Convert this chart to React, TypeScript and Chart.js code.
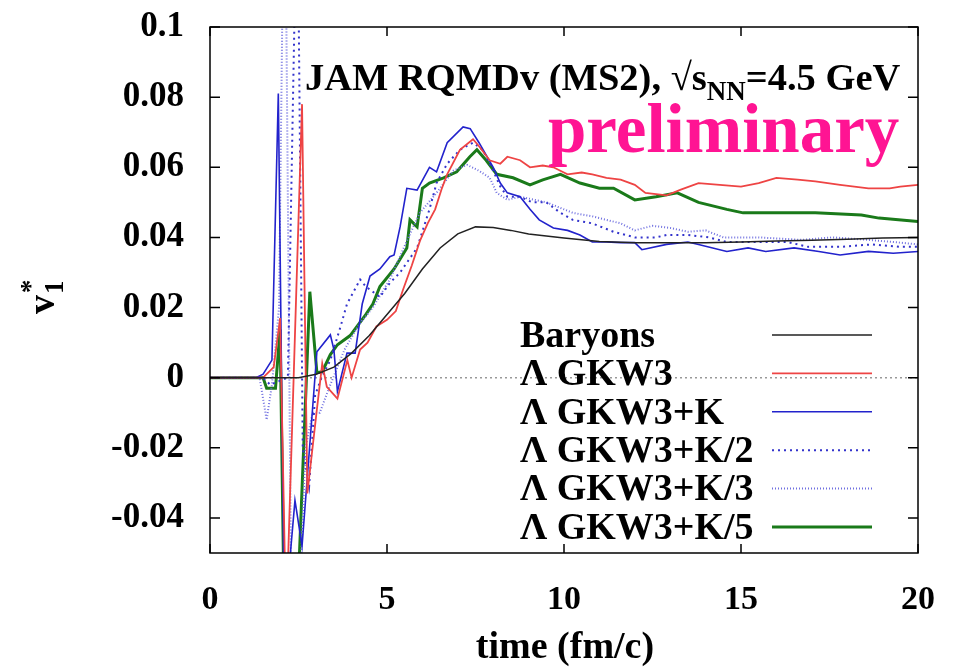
import React, { useEffect, useRef } from "react";
import { Chart, registerables } from "chart.js";

Chart.register(...registerables);

// ---- data (time in fm/c, v1*) ----
const baryonsT = [0, 1, 2, 2.5, 3, 3.5, 4, 4.5, 5, 5.5, 6, 6.5, 7, 7.5, 8, 8.5, 9, 10, 11, 12, 13, 14, 15, 16, 17, 18, 19, 20];
const baryonsV = [0, 0, 0, 0, 0.001, 0.003, 0.007, 0.012, 0.018, 0.024, 0.031, 0.037, 0.041, 0.043, 0.0428, 0.042, 0.041, 0.0398, 0.0388, 0.0385, 0.0385, 0.0385, 0.0387, 0.039, 0.0392, 0.0395, 0.0398, 0.04];

const gkwT = [0, 1.5, 1.8, 1.98, 2.15, 2.6, 2.75, 3.02, 3.17, 3.3, 3.6, 3.88, 4.0, 4.24, 4.45, 4.7, 5.0, 5.25, 5.45, 5.7, 5.93, 6.15, 6.36, 6.55, 6.7, 7.06, 7.43, 7.6, 7.9, 8.2, 8.4, 8.76, 9.04, 9.4, 9.7, 10.1, 10.5, 10.8, 11.2, 11.6, 12.0, 12.3, 12.9, 13.3, 13.8, 14.4, 15.0, 15.5, 16.0, 16.6, 17.1, 17.8, 18.6, 19.2, 19.5, 20];
const gkwV = [0, 0, 0.003, 0.017, -0.07, 0.078, -0.033, -0.009, 0.004, -0.0026, -0.006, 0.005, 0, 0.008, 0.01, 0.0146, 0.0165, 0.019, 0.025, 0.032, 0.039, 0.044, 0.048, 0.054, 0.058, 0.065, 0.068, 0.066, 0.062, 0.061, 0.063, 0.062, 0.06, 0.0605, 0.06, 0.058, 0.0585, 0.058, 0.057, 0.0565, 0.055, 0.0527, 0.052, 0.0536, 0.0555, 0.055, 0.0545, 0.0555, 0.057, 0.0565, 0.056, 0.055, 0.054, 0.054, 0.0545, 0.055];

const gkwKT = [0, 1.3, 1.5, 1.75, 1.93, 2.1, 2.4, 2.6, 3.02, 3.4, 3.5, 3.6, 3.87, 4.1, 4.2, 4.3, 4.52, 4.8, 5.08, 5.2, 5.37, 5.56, 5.85, 6.2, 6.4, 6.7, 7.15, 7.35, 7.6, 8.0, 8.2, 8.4, 8.76, 9.04, 9.3, 9.7, 10.1, 10.45, 10.8, 11.2, 11.6, 12.0, 12.2, 12.9, 13.5, 13.8, 14.6, 15.2, 15.7, 16.5, 17.2, 17.8, 18.6, 19.3, 20];
const gkwKV = [0, 0, 0.001, 0.005, 0.081, -0.07, -0.035, -0.048, 0.0074, 0.0122, 0.008, -0.004, 0.007, 0.007, 0.014, 0.021, 0.029, 0.031, 0.0345, 0.035, 0.043, 0.054, 0.0535, 0.06, 0.0587, 0.067, 0.0715, 0.071, 0.067, 0.06, 0.0555, 0.0527, 0.0516, 0.048, 0.045, 0.0427, 0.042, 0.0407, 0.0387, 0.0387, 0.0385, 0.0385, 0.0365, 0.038, 0.0387, 0.038, 0.036, 0.037, 0.036, 0.037, 0.036, 0.035, 0.036, 0.0355, 0.036];

const gkwK2T = [0, 1.5, 1.7, 2.2, 2.4, 2.5, 2.62, 2.8, 2.97, 3.15, 3.4, 3.7, 3.87, 4.24, 4.4, 4.8, 5.08, 5.37, 5.85, 6.2, 6.4, 6.7, 7.06, 7.43, 7.7, 8.0, 8.2, 8.4, 8.76, 9.1, 9.5, 9.9, 10.25, 10.8, 11.4, 12.0, 12.6, 12.9, 13.5, 14.1, 14.6, 15.5, 16.3, 16.9, 17.8, 18.7, 19.5, 20];
const gkwK2V = [0, 0, -0.002, 0, 0.11, 0.11, -0.02, -0.031, -0.005, 0, 0.005, 0.015, 0.021, 0.028, 0.026, 0.023, 0.027, 0.03, 0.037, 0.048, 0.0555, 0.061, 0.065, 0.067, 0.065, 0.059, 0.0545, 0.0516, 0.0516, 0.05, 0.05, 0.047, 0.045, 0.044, 0.0416, 0.04, 0.04, 0.0407, 0.0407, 0.04, 0.0387, 0.0387, 0.0387, 0.0373, 0.0373, 0.038, 0.0373, 0.0373];

const gkwK3T = [0, 1.4, 1.6, 1.75, 1.95, 2.05, 2.15, 2.3, 2.5, 2.7, 2.9, 3.1, 3.4, 3.8, 4.2, 4.6, 5.08, 5.56, 5.93, 6.4, 6.87, 7.26, 7.6, 7.9, 8.1, 8.4, 8.76, 9.5, 10.25, 10.8, 11.6, 12.0, 12.5, 13.0, 13.5, 14.0, 14.5, 15.5, 16.7, 17.6, 18.6, 19.5, 20];
const gkwK3V = [0, 0, -0.012, -0.002, 0.02, 0.11, 0.11, -0.07, -0.07, -0.02, -0.01, -0.01, -0.002, 0.008, 0.015, 0.02, 0.028, 0.039, 0.047, 0.0527, 0.059, 0.0607, 0.059, 0.057, 0.0527, 0.0507, 0.0516, 0.05, 0.047, 0.046, 0.044, 0.042, 0.0433, 0.0427, 0.0416, 0.042, 0.04, 0.04, 0.0393, 0.04, 0.0393, 0.0385, 0.038];

const gkwK5T = [0, 1.5, 1.6, 1.85, 1.98, 2.1, 2.45, 2.82, 3.02, 3.17, 3.4, 3.6, 3.96, 4.4, 4.6, 4.8, 5.2, 5.56, 5.65, 5.85, 6.0, 6.2, 6.6, 6.97, 7.34, 7.54, 7.8, 8.1, 8.56, 9.04, 9.4, 9.9, 10.45, 11.0, 11.4, 12.0, 12.6, 13.2, 13.8, 14.6, 15.06, 15.9, 17.1, 18.4, 18.9, 20];
const gkwK5V = [0, 0, -0.003, -0.003, 0.0137, -0.07, -0.07, 0.0245, 0.0014, 0.0017, 0.0066, 0.0094, 0.012, 0.018, 0.021, 0.026, 0.031, 0.037, 0.045, 0.043, 0.054, 0.0555, 0.057, 0.0587, 0.063, 0.065, 0.062, 0.058, 0.057, 0.055, 0.0564, 0.058, 0.0555, 0.054, 0.054, 0.0507, 0.0516, 0.0527, 0.05, 0.048, 0.047, 0.047, 0.047, 0.0464, 0.0455, 0.0445];

const seriesLabels = ["Baryons", "\u039b GKW3", "\u039b GKW3+K", "\u039b GKW3+K/2", "\u039b GKW3+K/3", "\u039b GKW3+K/5"];
const xTicks = [0, 5, 10, 15, 20];
const yTicks = [-0.04, -0.02, 0, 0.02, 0.04, 0.06, 0.08, 0.1];

const titleMain = "JAM RQMDv (MS2), \u221as";
const titleSub = "NN";
const titleEnd = "=4.5 GeV";
const stamp = "preliminary";
const xTitle = "time (fm/c)";

const FONT = "'Liberation Serif', 'Times New Roman', serif";

const pts = (t: number[], v: number[]) => t.map((x, i) => ({ x, y: v[i] }));

const overlay = {
  id: "overlay",
  beforeDatasetsDraw(chart: any) {
    const { ctx, chartArea: a, scales } = chart;
    const y0 = scales.y.getPixelForValue(0);
    ctx.save();
    ctx.strokeStyle = "#999";
    ctx.lineWidth = 1.5;
    ctx.setLineDash([2, 3]);
    ctx.beginPath();
    ctx.moveTo(a.left, y0);
    ctx.lineTo(a.right, y0);
    ctx.stroke();
    ctx.restore();
  },
  afterDatasetsDraw(chart: any) {
    const { ctx, chartArea: a, scales } = chart;
    ctx.save();
    // frame
    ctx.strokeStyle = "#000";
    ctx.lineWidth = 1.5;
    ctx.setLineDash([]);
    ctx.strokeRect(a.left, a.top, a.right - a.left, a.bottom - a.top);
    // inward ticks
    ctx.beginPath();
    xTicks.forEach((t) => {
      const px = scales.x.getPixelForValue(t);
      ctx.moveTo(px, a.bottom);
      ctx.lineTo(px, a.bottom - 9);
      ctx.moveTo(px, a.top);
      ctx.lineTo(px, a.top + 9);
    });
    yTicks.forEach((t) => {
      const py = scales.y.getPixelForValue(t);
      ctx.moveTo(a.left, py);
      ctx.lineTo(a.left + 10, py);
      ctx.moveTo(a.right, py);
      ctx.lineTo(a.right - 10, py);
    });
    ctx.stroke();

    // title
    ctx.fillStyle = "#000";
    ctx.textBaseline = "alphabetic";
    ctx.textAlign = "left";
    ctx.font = `bold 38.5px ${FONT}`;
    let x = 305;
    const by = 90;
    ctx.fillText(titleMain, x, by);
    x += ctx.measureText(titleMain).width;
    ctx.font = `bold 27px ${FONT}`;
    ctx.fillText(titleSub, x, by + 10);
    x += ctx.measureText(titleSub).width;
    ctx.font = `bold 38.5px ${FONT}`;
    ctx.fillText(titleEnd, x, by);

    // preliminary
    ctx.fillStyle = "#ff1493";
    ctx.font = `bold 69px ${FONT}`;
    ctx.fillText(stamp, 548, 152);

    // legend
    const ds = chart.data.datasets;
    ctx.font = `bold 38px ${FONT}`;
    ds.forEach((d: any, i: number) => {
      const cy = 336 + i * 38.4;
      ctx.fillStyle = "#000";
      ctx.textBaseline = "middle";
      ctx.fillText(d.label, 520, cy + 1);
      ctx.strokeStyle = d.borderColor;
      ctx.lineWidth = d.borderWidth;
      ctx.setLineDash(d.borderDash || []);
      ctx.beginPath();
      ctx.moveTo(772, cy - 1);
      ctx.lineTo(872, cy - 1);
      ctx.stroke();
    });
    ctx.setLineDash([]);

    // x title
    ctx.fillStyle = "#000";
    ctx.textAlign = "center";
    ctx.textBaseline = "middle";
    ctx.font = `bold 38px ${FONT}`;
    ctx.fillText(xTitle, 565, 648);

    // y title v1*
    ctx.translate(42, 292);
    ctx.rotate(-Math.PI / 2);
    ctx.textAlign = "left";
    ctx.textBaseline = "alphabetic";
    ctx.font = `bold 38px ${FONT}`;
    ctx.fillText("v", -22, 12);
    ctx.font = `bold 27px ${FONT}`;
    ctx.fillText("1", -2, 21);
    ctx.fillText("*", -1, -3);
    ctx.restore();
  },
};

export default function App() {
  const ref = useRef<HTMLCanvasElement | null>(null);
  useEffect(() => {
    if (!ref.current) return;
    const mk = (label: string, t: number[], v: number[], color: string, width: number, dash: number[] = []) => ({
      label,
      data: pts(t, v),
      borderColor: color,
      backgroundColor: color,
      borderWidth: width,
      borderDash: dash,
      pointRadius: 0,
      tension: 0,
      fill: false,
      clip: 0,
    });
    const chart = new Chart(ref.current, {
      type: "line",
      data: {
        datasets: [
          mk(seriesLabels[0], baryonsT, baryonsV, "#222222", 1.5),
          mk(seriesLabels[1], gkwT, gkwV, "#ee4444", 1.8),
          mk(seriesLabels[2], gkwKT, gkwKV, "#2222cc", 1.6),
          mk(seriesLabels[3], gkwK2T, gkwK2V, "#3333cc", 2, [2, 4]),
          mk(seriesLabels[4], gkwK3T, gkwK3V, "#6f6fe0", 2, [1, 2]),
          mk(seriesLabels[5], gkwK5T, gkwK5V, "#1a7a1a", 3),
        ] as any,
      },
      options: {
        animation: false,
        responsive: false,
        maintainAspectRatio: false,
        layout: { padding: { top: 27, right: 36, left: 0, bottom: 0 } },
        plugins: { legend: { display: false }, tooltip: { enabled: false } },
        scales: {
          x: {
            type: "linear",
            min: 0,
            max: 20,
            grid: { display: false, drawTicks: false },
            border: { display: false },
            ticks: {
              padding: 27,
              color: "#000",
              font: { family: FONT, size: 34, weight: "bold" },
              maxRotation: 0,
            },
            afterBuildTicks: (s: any) => {
              s.ticks = xTicks.map((v) => ({ value: v }));
            },
            afterFit: (s: any) => {
              s.height = 116;
              s.paddingLeft = 0;
              s.paddingRight = 0;
            },
          },
          y: {
            type: "linear",
            min: -0.05,
            max: 0.1,
            grid: { display: false, drawTicks: false },
            border: { display: false },
            ticks: {
              padding: 26,
              color: "#000",
              font: { family: FONT, size: 35, weight: "bold" },
              callback: (v: any) => String(parseFloat(Number(v).toFixed(3))),
            },
            afterBuildTicks: (s: any) => {
              s.ticks = yTicks.map((v) => ({ value: v }));
            },
            afterFit: (s: any) => {
              s.width = 210;
              s.paddingTop = 0;
              s.paddingBottom = 0;
            },
          },
        },
      },
      plugins: [overlay],
    });
    return () => chart.destroy();
  }, []);
  return (
    <div style={{ position: "fixed", left: 0, top: 0, width: 954, height: 669, background: "#fff" }}>
      <canvas ref={ref} width={954} height={669} style={{ width: 954, height: 669 }} />
    </div>
  );
}
